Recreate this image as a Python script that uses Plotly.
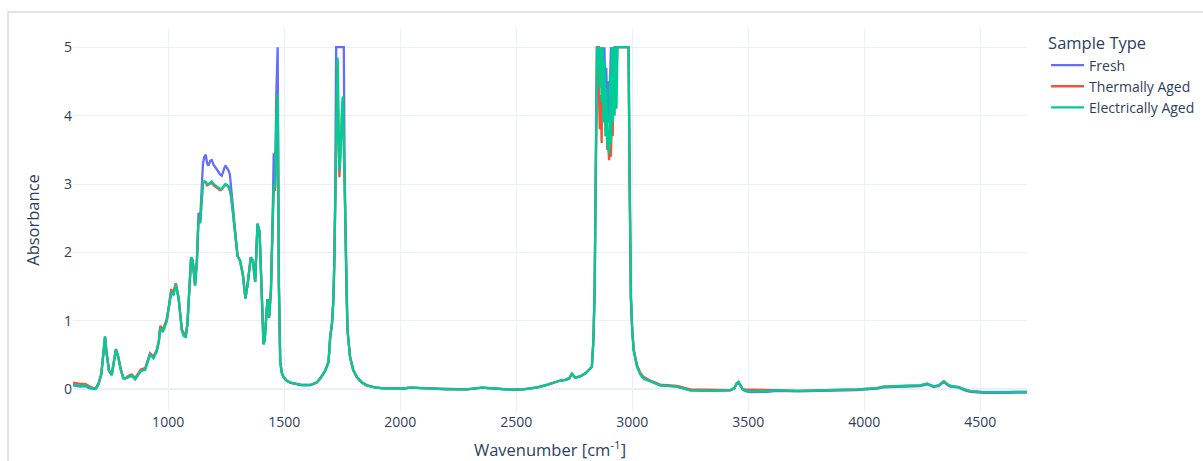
import plotly.graph_objects as go

# FTIR absorbance spectra of the three sample types (values clipped at 5 by the detector)
wavenumber = [
    590, 605, 621, 642, 660, 675, 688, 700, 712, 722, 728, 734, 745, 757, 767, 775, 785, 795,
    807, 818, 829, 843, 858, 870, 882, 901, 915, 922, 937, 951, 960, 966, 977, 987, 994, 1004,
    1013, 1023, 1033, 1045, 1052, 1059, 1068, 1076, 1083, 1091, 1099, 1106, 1116, 1124, 1131,
    1138, 1145, 1150, 1156, 1162, 1168, 1174, 1181, 1188, 1196, 1203, 1210, 1217, 1224, 1231,
    1239, 1246, 1253, 1260, 1266, 1271, 1276, 1282, 1289, 1299, 1310, 1322, 1333, 1343, 1356,
    1365, 1375, 1385, 1394, 1400, 1404, 1411, 1416, 1421, 1428, 1435, 1443, 1450, 1455, 1461,
    1466, 1472, 1477, 1483, 1490, 1497, 1510, 1526, 1550, 1575, 1612, 1640, 1655, 1675, 1691,
    1698, 1706, 1712, 1716, 1720, 1724, 1730, 1735, 1738, 1742, 1746, 1750, 1753, 1757, 1760,
    1763, 1768, 1773, 1784, 1798, 1813, 1835, 1856, 1890, 1928, 1970, 2004, 2043, 2090, 2142,
    2200, 2287, 2353, 2420, 2483, 2530, 2592, 2636, 2665, 2690, 2711, 2728, 2740, 2754, 2775,
    2800, 2826, 2833, 2838, 2843, 2848, 2852, 2856, 2860, 2864, 2868, 2872, 2876, 2880, 2884,
    2888, 2892, 2896, 2900, 2904, 2908, 2912, 2916, 2920, 2924, 2928, 2932, 2936, 2950, 2970,
    2984, 2988, 2994, 3000, 3006, 3020, 3035, 3049, 3078, 3121, 3193, 3250, 3336, 3422, 3440,
    3450, 3458, 3466, 3476, 3487, 3509, 3581, 3624, 3710, 3825, 3968, 4055, 4083, 4170, 4241,
    4270, 4299, 4321, 4342, 4360, 4371, 4407, 4430, 4457, 4514, 4600, 4701,
]

fresh = [
    0.06, 0.05, 0.04, 0.05, 0.02, 0.01, 0.01, 0.08, 0.22, 0.55, 0.77, 0.55, 0.27, 0.21, 0.42, 0.58, 0.47, 0.30,
    0.16, 0.16, 0.18, 0.20, 0.15, 0.22, 0.27, 0.29, 0.42, 0.51, 0.46, 0.56, 0.70, 0.90, 0.84, 0.95, 1.00, 1.22,
    1.42, 1.39, 1.53, 1.33, 1.05, 0.86, 0.78, 0.77, 0.95, 1.55, 1.93, 1.88, 1.52, 1.88, 2.58,
    2.48, 2.95, 3.30, 3.40, 3.43, 3.30, 3.27, 3.34, 3.35, 3.28, 3.25, 3.22, 3.18, 3.14, 3.12,
    3.20, 3.27, 3.24, 3.20, 3.14, 2.95, 2.72, 2.50, 2.22, 1.95, 1.88, 1.68, 1.33, 1.55, 1.93,
    1.88, 1.57, 2.42, 2.30, 1.70, 1.22, 0.66, 0.72, 1.05, 1.32, 1.05, 1.45, 2.40, 3.45, 3.00,
    4.30, 5.00, 1.60, 0.40, 0.24, 0.18, 0.13, 0.10, 0.08, 0.06, 0.06, 0.10, 0.16, 0.26, 0.40,
    0.75, 0.96, 1.30, 1.85, 2.90, 5.00, 5.00, 5.00, 5.00, 5.00, 5.00, 5.00, 5.00, 5.00, 3.40,
    2.32, 1.40, 0.86, 0.47, 0.28, 0.18, 0.10, 0.06, 0.03, 0.015, 0.02, 0.01, 0.025, 0.02, 0.01,
    0.00, 0.00, 0.025, 0.01, -0.005, 0.00, 0.03, 0.07, 0.10, 0.13, 0.14, 0.16, 0.23, 0.17, 0.19,
    0.24, 0.33, 0.75, 1.50, 3.00, 5.00, 5.00, 5.00, 4.90, 5.00, 4.60, 5.00, 4.50, 5.00, 4.20,
    4.70, 4.00, 4.50, 3.90, 4.30, 5.00, 4.00, 5.00, 4.40, 5.00, 5.00, 5.00, 5.00, 5.00, 5.00,
    5.00, 3.30, 1.35, 0.85, 0.57, 0.34, 0.22, 0.16, 0.12, 0.06, 0.04, -0.015, -0.02, -0.015, 0.015,
    0.08, 0.10, 0.05, -0.005, -0.025, -0.04, -0.035, -0.02, -0.03, -0.025, -0.01, 0.01, 0.03, 0.04, 0.05,
    0.075, 0.035, 0.05, 0.11, 0.06, 0.04, 0.025, -0.01, -0.035, -0.05, -0.05, -0.045,
]

thermally_aged = [
    0.10, 0.09, 0.08, 0.08, 0.05, 0.02, 0.02, 0.09, 0.23, 0.56, 0.77, 0.56, 0.28, 0.22, 0.43, 0.59, 0.48, 0.31,
    0.17, 0.17, 0.20, 0.22, 0.17, 0.24, 0.29, 0.31, 0.44, 0.53, 0.48, 0.58, 0.72, 0.93, 0.87, 0.98, 1.03, 1.24,
    1.45, 1.43, 1.55, 1.35, 1.07, 0.88, 0.82, 0.80, 0.96, 1.55, 1.92, 1.88, 1.52, 1.88, 2.50,
    2.43, 2.85, 3.02, 3.03, 3.02, 2.98, 2.99, 3.01, 3.02, 2.98, 2.96, 2.95, 2.93, 2.91, 2.92,
    2.96, 2.99, 2.98, 2.96, 2.90, 2.82, 2.68, 2.50, 2.22, 1.95, 1.88, 1.68, 1.33, 1.55, 1.93,
    1.88, 1.57, 2.42, 2.30, 1.70, 1.22, 0.66, 0.72, 1.05, 1.32, 1.05, 1.45, 2.40, 2.95, 2.90,
    3.80, 4.30, 1.55, 0.40, 0.24, 0.18, 0.13, 0.10, 0.08, 0.065, 0.065, 0.10, 0.16, 0.26, 0.40,
    0.75, 0.96, 1.30, 1.85, 2.90, 3.90, 4.80, 3.60, 3.10, 3.40, 3.90, 4.10, 4.25, 3.50, 2.90,
    2.32, 1.40, 0.86, 0.47, 0.28, 0.18, 0.10, 0.06, 0.03, 0.015, 0.02, 0.01, 0.025, 0.02, 0.01,
    0.00, 0.00, 0.025, 0.01, -0.005, 0.00, 0.03, 0.07, 0.10, 0.13, 0.14, 0.16, 0.23, 0.17, 0.19,
    0.24, 0.33, 0.75, 1.50, 3.00, 5.00, 5.00, 4.50, 3.80, 4.30, 3.60, 4.60, 4.00, 4.40, 3.90,
    4.20, 3.50, 3.70, 3.35, 3.50, 3.40, 4.00, 3.70, 5.00, 4.30, 5.00, 4.60, 5.00, 5.00, 5.00,
    5.00, 3.30, 1.35, 0.86, 0.59, 0.36, 0.24, 0.18, 0.13, 0.07, 0.05, 0.00, -0.01, -0.01, 0.02,
    0.09, 0.11, 0.06, 0.01, -0.005, -0.005, -0.01, -0.01, -0.02, -0.015, 0.00, 0.02, 0.04, 0.05, 0.06,
    0.085, 0.045, 0.06, 0.12, 0.07, 0.05, 0.035, 0.00, -0.025, -0.04, -0.04, -0.035,
]

electrically_aged = [
    0.07, 0.06, 0.05, 0.06, 0.03, 0.01, 0.01, 0.08, 0.22, 0.55, 0.77, 0.55, 0.27, 0.21, 0.42, 0.58, 0.47, 0.30,
    0.16, 0.16, 0.18, 0.20, 0.15, 0.22, 0.27, 0.29, 0.42, 0.51, 0.46, 0.56, 0.70, 0.90, 0.84, 0.95, 1.00, 1.22,
    1.42, 1.39, 1.53, 1.33, 1.05, 0.86, 0.78, 0.77, 0.95, 1.55, 1.93, 1.88, 1.52, 1.88, 2.50,
    2.43, 2.85, 3.03, 3.04, 3.03, 3.00, 3.00, 3.02, 3.04, 3.00, 2.98, 2.96, 2.95, 2.93, 2.93,
    2.97, 3.00, 2.99, 2.97, 2.91, 2.83, 2.68, 2.50, 2.22, 1.95, 1.88, 1.68, 1.33, 1.55, 1.93,
    1.88, 1.57, 2.42, 2.30, 1.70, 1.22, 0.66, 0.72, 1.05, 1.32, 1.05, 1.45, 2.40, 3.00, 2.95,
    3.90, 4.32, 1.55, 0.40, 0.24, 0.18, 0.13, 0.10, 0.08, 0.065, 0.065, 0.10, 0.16, 0.26, 0.40,
    0.75, 0.96, 1.30, 1.85, 2.90, 3.80, 4.85, 3.70, 3.20, 3.40, 3.90, 4.15, 4.28, 3.50, 2.90,
    2.32, 1.40, 0.86, 0.47, 0.28, 0.18, 0.10, 0.06, 0.03, 0.015, 0.02, 0.01, 0.025, 0.02, 0.01,
    0.00, 0.00, 0.025, 0.01, -0.005, 0.00, 0.03, 0.07, 0.10, 0.13, 0.14, 0.16, 0.23, 0.17, 0.19,
    0.24, 0.33, 0.75, 1.50, 3.00, 5.00, 4.70, 5.00, 4.40, 5.00, 4.20, 5.00, 3.90, 4.80, 3.70,
    4.40, 3.60, 3.50, 3.45, 4.60, 3.60, 5.00, 3.90, 5.00, 4.00, 5.00, 4.10, 5.00, 5.00, 5.00,
    5.00, 3.30, 1.35, 0.85, 0.57, 0.34, 0.22, 0.16, 0.12, 0.06, 0.04, -0.015, -0.02, -0.01, 0.02,
    0.09, 0.11, 0.06, 0.00, -0.015, -0.03, -0.025, -0.01, -0.02, -0.015, 0.00, 0.02, 0.04, 0.05, 0.06,
    0.085, 0.045, 0.06, 0.12, 0.07, 0.05, 0.035, 0.00, -0.025, -0.04, -0.04, -0.035,
]

series = [
    ("Fresh", fresh, "#636efa"),
    ("Thermally Aged", thermally_aged, "#EF553B"),
    ("Electrically Aged", electrically_aged, "#00cc96"),
]

fig = go.Figure()
for name, values, color in series:
    fig.add_trace(go.Scatter(
        x=wavenumber, y=values, mode="lines", name=name,
        line=dict(color=color, width=2.3),
    ))

fig.update_layout(
    template="plotly_white",
    width=1203, height=461,
    margin=dict(l=73, r=176, t=28, b=49, autoexpand=False),
    font=dict(family="Open Sans, Verdana, sans-serif", size=14, color="#2a3f5f"),
    legend=dict(
        title=dict(text="Sample Type", font=dict(size=16.5)),
        font=dict(size=14),
        tracegroupgap=0,
        x=1.02, y=1.0,
        itemwidth=33,
    ),
    xaxis=dict(
        title=dict(text="Wavenumber [cm<sup>-1</sup>]", font=dict(size=16.5)),
        range=[590, 4701],
        tickvals=[1000, 1500, 2000, 2500, 3000, 3500, 4000, 4500],
        automargin=False,
    ),
    yaxis=dict(
        title=dict(text="Absorbance", font=dict(size=16.5), standoff=20),
        range=[-0.33, 5.28],
        tickvals=[0, 1, 2, 3, 4, 5],
        automargin=False,
    ),
    shapes=[dict(
        type="rect", xref="paper", yref="paper",
        x0=-0.0681, x1=1.3, y0=-0.3, y1=1.0417,
        line=dict(color="#dcdcdc", width=1.5), layer="below",
    )],
)

fig.write_html("out.html")
